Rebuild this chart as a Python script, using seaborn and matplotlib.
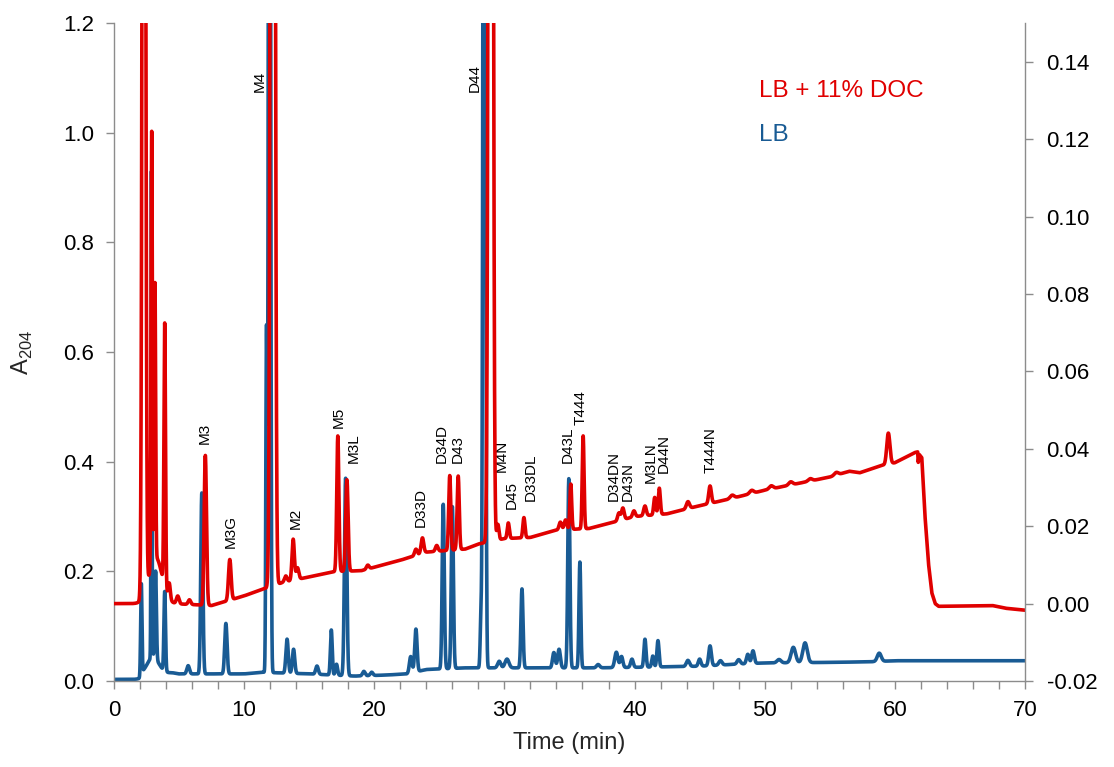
import numpy as np
import pandas as pd
import matplotlib
matplotlib.use("Agg")
import matplotlib.pyplot as plt
import seaborn as sns

# ---- LB trace (left axis, A204) : resolved peaks ----
lb_peak_time = [2.1, 2.88, 2.9, 3.2, 3.9, 3.0, 5.7, 6.75, 8.6, 11.72, 11.95, 13.3, 13.8,
                15.6, 16.7, 17.1, 17.8, 19.2, 19.8, 22.8, 23.2, 25.3, 26.0, 28.2, 28.45,
                29.6, 30.2, 31.35, 33.8, 34.2, 34.95, 35.8, 37.2, 38.6, 39.0, 39.8, 40.8,
                41.4, 41.8, 44.1, 45.0, 45.8, 46.6, 48.0, 48.7, 49.1, 51.1, 52.2, 53.1, 58.8]
lb_peak_height = [0.166, 0.80, 0.095, 0.16, 0.145, 0.03, 0.015, 0.33, 0.092, 0.62, 3.0, 0.062, 0.044,
                  0.015, 0.082, 0.02, 0.36, 0.008, 0.006, 0.03, 0.078, 0.30, 0.295, 0.09, 3.0,
                  0.012, 0.016, 0.144, 0.028, 0.034, 0.345, 0.193, 0.006, 0.028, 0.02, 0.015, 0.051,
                  0.02, 0.048, 0.011, 0.013, 0.036, 0.008, 0.008, 0.017, 0.023, 0.006, 0.028, 0.036, 0.015]
lb_peak_sigma = [0.05, 0.03, 0.05, 0.06, 0.06, 0.45, 0.1, 0.08, 0.09, 0.05, 0.07, 0.09, 0.09,
                 0.1, 0.07, 0.08, 0.09, 0.1, 0.1, 0.1, 0.09, 0.08, 0.08, 0.06, 0.08,
                 0.12, 0.15, 0.08, 0.1, 0.1, 0.08, 0.07, 0.12, 0.12, 0.1, 0.1, 0.08,
                 0.08, 0.08, 0.12, 0.1, 0.1, 0.12, 0.12, 0.1, 0.1, 0.15, 0.17, 0.17, 0.15]
# LB baseline drift
lb_base_time = [0, 2.05, 2.15, 4.5, 5, 10, 11.5, 12.5, 15, 18.5, 21, 22.5, 24, 27, 37, 40,
                45, 48, 50, 55, 58, 60, 70]
lb_base_level = [0.003, 0.003, 0.012, 0.015, 0.013, 0.013, 0.016, 0.015, 0.013, 0.009, 0.011,
                 0.013, 0.021, 0.024, 0.024, 0.025, 0.027, 0.031, 0.033, 0.034, 0.035, 0.037, 0.037]

# ---- LB + 11% DOC trace (right axis) : resolved peaks ----
doc_peak_time = [2.3, 2.9, 3.15, 3.9, 3.2, 4.25, 4.9, 5.8, 7.02, 8.9, 12.2, 13.2, 13.77, 14.1,
                 17.2, 17.9, 19.5, 23.2, 23.7, 24.8, 25.8, 26.45, 28.95, 29.5, 30.3, 31.5,
                 34.3, 34.7, 35.1, 36.05, 38.8, 39.1, 39.95, 40.8, 41.55, 41.9, 44.1, 45.8,
                 47.5, 49.0, 50.5, 52.0, 53.5, 55.5, 59.5]
doc_peak_height = [0.5, 0.112, 0.071, 0.068, 0.012, 0.004, 0.002, 0.0012, 0.0387, 0.0105, 0.8,
                   0.0015, 0.0106, 0.003, 0.035, 0.0236, 0.001, 0.0016, 0.004, 0.0015, 0.0193,
                   0.019, 0.8, 0.004, 0.004, 0.0052, 0.002, 0.0025, 0.0117, 0.024, 0.002, 0.003,
                   0.0015, 0.0025, 0.0045, 0.0068, 0.0018, 0.0045, 0.0008, 0.0008, 0.0008,
                   0.0008, 0.0006, 0.0007, 0.008]
doc_peak_sigma = [0.1, 0.05, 0.05, 0.06, 0.5, 0.08, 0.1, 0.1, 0.09, 0.1, 0.12, 0.1, 0.09, 0.1,
                  0.08, 0.09, 0.1, 0.1, 0.1, 0.1, 0.08, 0.08, 0.12, 0.08, 0.08, 0.08,
                  0.1, 0.1, 0.07, 0.07, 0.1, 0.1, 0.1, 0.1, 0.08, 0.08, 0.12, 0.1,
                  0.15, 0.15, 0.15, 0.15, 0.15, 0.15, 0.12]
# DOC gradient baseline (right-axis units)
doc_base_time = [0, 4.5, 7.5, 10, 11.5, 13, 15, 17, 19, 22, 24, 27, 28, 30, 32, 34, 36.5, 38,
                 40, 42.5, 45, 47, 50, 55, 56.5, 57.3, 59, 60, 61.5, 61.75, 61.8, 61.88, 62.07,
                 62.3, 62.58, 62.84, 63.1, 63.36, 67.5, 68.5, 70]
doc_base_level = [0.0, 0.0, -0.0005, 0.002, 0.0038, 0.0055, 0.0069, 0.0083, 0.0085, 0.0112,
                  0.0133, 0.0141, 0.0154, 0.0168, 0.0171, 0.019, 0.0194, 0.0207, 0.0225, 0.0232,
                  0.0253, 0.0268, 0.0293, 0.0327, 0.0342, 0.0338, 0.0357, 0.0364, 0.039, 0.0392,
                  0.0365, 0.0385, 0.0377, 0.0234, 0.0105, 0.0028, 0.0, -0.0007, -0.0005,
                  -0.0012, -0.0017]

# peak annotations: name, time, label base (left-axis units)
peak_names = ["M3", "M3G", "M4", "M2", "M5", "M3L", "D33D", "D34D", "D43", "D44", "M4N", "D45",
              "D33DL", "D43L", "T444", "D34DN", "D43N", "M3LN", "D44N", "T444N"]
peak_label_time = [7.0, 9.0, 11.2, 13.95, 17.25, 18.45, 23.6, 25.15, 26.45, 27.7, 29.8, 30.57,
                   32.0, 34.87, 35.85, 38.4, 39.44, 41.23, 42.26, 45.85]
peak_label_base = [0.432, 0.242, 1.074, 0.277, 0.462, 0.397, 0.281, 0.397, 0.398, 1.074, 0.381,
                   0.314, 0.329, 0.397, 0.467, 0.329, 0.329, 0.361, 0.38, 0.38]

series_names = ["LB + 11% DOC", "LB"]
left_ticks = [0.0, 0.2, 0.4, 0.6, 0.8, 1.0, 1.2]
right_ticks = [-0.02, 0.0, 0.02, 0.04, 0.06, 0.08, 0.10, 0.12, 0.14]
time_ticks = [0, 10, 20, 30, 40, 50, 60, 70]

RED = "#e00000"
BLUE = "#195b94"
GREY = "#8c8c8c"


def trace(t, base_t, base_v, pt, ph, ps):
    y = np.interp(t, base_t, base_v)
    for c, h, s in zip(pt, ph, ps):
        y = y + h * np.exp(-0.5 * ((t - c) / s) ** 2)
    return y


time = np.arange(0, 70.0001, 0.005)
df_lb = pd.DataFrame({"Time": time,
                      "A": trace(time, lb_base_time, lb_base_level,
                                 lb_peak_time, lb_peak_height, lb_peak_sigma)})
df_doc = pd.DataFrame({"Time": time,
                       "A": trace(time, doc_base_time, doc_base_level,
                                  doc_peak_time, doc_peak_height, doc_peak_sigma)})

sns.set_theme(style="white")
plt.rcParams["font.family"] = ["Liberation Sans", "DejaVu Sans"]
plt.rcParams["mathtext.fontset"] = "custom"
plt.rcParams["mathtext.rm"] = "Liberation Sans"

fig = plt.figure(figsize=(11.14, 7.67), dpi=100)
ax = fig.add_axes([0.1023, 0.1121, 0.8178, 0.8579])
ax2 = ax.twinx()

sns.lineplot(data=df_lb, x="Time", y="A", ax=ax, color=BLUE, linewidth=2.6,
             estimator=None, sort=False)
sns.lineplot(data=df_doc, x="Time", y="A", ax=ax2, color=RED, linewidth=2.6,
             estimator=None, sort=False)

ax.set_xlim(0, 70)
ax.set_ylim(0, 1.2)
ax2.set_ylim(-0.02, 0.15)
ax.set_xticks(time_ticks)
ax.set_xticks(np.arange(0, 71, 2), minor=True)
ax.set_yticks(left_ticks)
ax.set_yticklabels([f"{v:.1f}" for v in left_ticks])
ax2.set_yticks(right_ticks)
ax2.set_yticklabels([f"{v:.2f}" for v in right_ticks])

for a in (ax, ax2):
    a.spines["top"].set_visible(False)
    for s in ("left", "right", "bottom"):
        a.spines[s].set_color(GREY)
        a.spines[s].set_linewidth(1.0)
    a.tick_params(which="both", direction="out", length=5.5, width=1.0, color=GREY,
                  labelsize=16, labelcolor="black")
ax.tick_params(axis="x", which="both", bottom=True, pad=8)
ax.tick_params(axis="y", left=True, pad=9)
ax2.tick_params(axis="y", right=True, pad=10)
ax.spines["right"].set_visible(False)
ax2.spines["left"].set_visible(False)
ax2.spines["bottom"].set_visible(False)

ax.set_xlabel("Time (min)", fontsize=17, labelpad=8)
ax.set_ylabel(r"A$_{\mathregular{204}}$", fontsize=17, labelpad=20)
ax2.set_ylabel("")

for name, t, yb in zip(peak_names, peak_label_time, peak_label_base):
    ax.text(t, yb, name, rotation=90, ha="center", va="bottom", fontsize=11, color="black")

ax.text(49.6, 1.076, series_names[0], color=RED, fontsize=17.5, ha="left", va="center")
ax.text(49.6, 0.995, series_names[1], color=BLUE, fontsize=17.5, ha="left", va="center")

ax2.set_zorder(ax.zorder + 1)
ax2.patch.set_visible(False)

fig.savefig("out.png", dpi=100)
